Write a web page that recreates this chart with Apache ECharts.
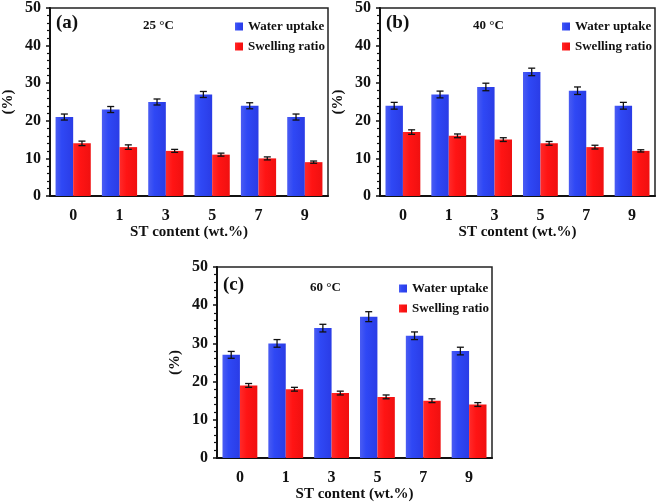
<!DOCTYPE html>
<html><head><meta charset="utf-8">
<script src="https://cdn.jsdelivr.net/npm/echarts@6/dist/echarts.min.js"></script>
<style>html,body{margin:0;padding:0;background:#fff}#c{width:661px;height:504px}</style>
</head><body><div id="c"></div>
<script>
const categories = ['0', '1', '3', '5', '7', '9'];
const panelLabels = ['(a)', '(b)', '(c)'];
const temps = ['25 °C', '40 °C', '60 °C'];
const waterA = [21, 23, 25, 27, 24, 21];
const swellA = [14, 13, 12, 11, 10, 9];
const waterErrA = [0.8, 0.8, 0.8, 0.8, 0.8, 0.8];
const swellErrA = [0.6, 0.6, 0.4, 0.4, 0.4, 0.3];
const waterB = [24, 27, 29, 33, 28, 24];
const swellB = [17, 16, 15, 14, 13, 12];
const waterErrB = [0.9, 0.9, 1.0, 1.0, 1.0, 0.9];
const swellErrB = [0.6, 0.5, 0.5, 0.5, 0.5, 0.3];
const waterC = [27, 30, 34, 37, 32, 28];
const swellC = [19, 18, 17, 16, 15, 14];
const waterErrC = [0.9, 1.0, 1.0, 1.3, 1.0, 1.0];
const swellErrC = [0.5, 0.5, 0.5, 0.5, 0.5, 0.5];
const yTicks = [0, 10, 20, 30, 40, 50];

const panels = [
  {water: waterA, swell: swellA, we: waterErrA, se: swellErrA},
  {water: waterB, swell: swellB, we: waterErrB, se: swellErrB},
  {water: waterC, swell: swellC, we: waterErrC, se: swellErrC}
];
const grids = [
  {left: 50, top: 5, width: 278, height: 191},
  {left: 380, top: 5, width: 275, height: 191},
  {left: 217, top: 267, width: 275, height: 191}
];
const FONT = 'Liberation Serif';
const GAP = 0.24;
const blueGrad = new echarts.graphic.LinearGradient(0, 0, 1, 0, [
  {offset: 0, color: '#4a5cf2'}, {offset: 0.35, color: '#2f48f5'}, {offset: 1, color: '#2a3ce6'}]);
const redGrad = new echarts.graphic.LinearGradient(0, 0, 1, 0, [
  {offset: 0, color: '#ff2a2a'}, {offset: 0.4, color: '#ff1414'}, {offset: 1, color: '#f01010'}]);

function errSeries(idx, vals, errs, side) {
  return {
    type: 'custom', xAxisIndex: idx, yAxisIndex: idx, z: 10, silent: true,
    data: vals.map((v, i) => [i, v, errs[i]]),
    renderItem: function (params, api) {
      const band = api.size([1, 0])[0];
      const bw = band * (1 - GAP) / 2;
      const c = api.coord([api.value(0), api.value(1)]);
      const x = c[0] + side * bw / 2;
      const hi = api.coord([api.value(0), api.value(1) + api.value(2)])[1];
      const lo = api.coord([api.value(0), api.value(1) - api.value(2)])[1];
      const cap = 3.5;
      const st = {stroke: '#111', lineWidth: 1.3};
      return {type: 'group', children: [
        {type: 'line', shape: {x1: x, y1: hi, x2: x, y2: lo}, style: st},
        {type: 'line', shape: {x1: x - cap, y1: hi, x2: x + cap, y2: hi}, style: st},
        {type: 'line', shape: {x1: x - cap, y1: lo, x2: x + cap, y2: lo}, style: st}
      ]};
    }
  };
}

const option = {
  animation: false,
  backgroundColor: '#fff',
  textStyle: {fontFamily: FONT, fontWeight: 'bold', color: '#111'},
  grid: grids.map(g => Object.assign({show: true, borderColor: '#222', borderWidth: 1.5, containLabel: false}, g)),
  xAxis: grids.map((g, i) => ({
    type: 'category', gridIndex: i, data: categories,
    name: 'ST content (wt.%)', nameLocation: 'middle', nameGap: 29,
    nameTextStyle: {fontFamily: FONT, fontWeight: 'bold', fontSize: 15, color: '#111'},
    axisLine: {lineStyle: {color: '#111', width: 2}},
    axisTick: {show: false},
    axisLabel: {fontFamily: FONT, fontWeight: 'bold', fontSize: 16, color: '#111', margin: 12}
  })),
  yAxis: grids.map((g, i) => ({
    type: 'value', gridIndex: i, min: yTicks[0], max: yTicks[yTicks.length - 1], interval: 10,
    name: '(%)', nameLocation: 'middle', nameGap: 34, nameRotate: 90,
    nameTextStyle: {fontFamily: FONT, fontWeight: 'bold', fontSize: 15, color: '#111'},
    axisLine: {show: true, lineStyle: {color: '#111', width: 2}},
    axisTick: {show: true, inside: false, length: 4, lineStyle: {color: '#111', width: 1.5}},
    minorTick: {show: true, splitNumber: 5, length: 3, lineStyle: {color: '#111', width: 1.2}},
    splitLine: {show: false},
    axisLabel: {fontFamily: FONT, fontWeight: 'bold', fontSize: 16, color: '#111', margin: 9}
  })),
  legend: grids.map((g, i) => ({
    orient: 'vertical', left: g.left + g.width - 98, top: g.top + 10,
    itemWidth: 8, itemHeight: 8, itemGap: 7, icon: 'rect',
    data: ['Water uptake', 'Swelling ratio'],
    formatter: '{s|{name}}',
    textStyle: {fontFamily: FONT, fontWeight: 'bold', fontSize: 13, color: '#111',
      rich: {s: {fontFamily: FONT, fontWeight: 'bold', fontSize: 13, color: '#111'}}}
  })),
  graphic: grids.flatMap((g, i) => [
    {type: 'text', left: g.left + 6, top: g.top + 9,
      style: {text: panelLabels[i], font: 'bold 19px "Liberation Serif"', fill: '#111'}},
    {type: 'text', left: g.left + 93, top: g.top + 14,
      style: {text: temps[i], font: 'bold 13px "Liberation Serif"', fill: '#111'}}
  ]),
  series: panels.flatMap((p, i) => [
    {type: 'bar', name: 'Water uptake', xAxisIndex: i, yAxisIndex: i, data: p.water,
      barGap: '0%', barCategoryGap: (GAP * 100) + '%', itemStyle: {color: blueGrad}},
    {type: 'bar', name: 'Swelling ratio', xAxisIndex: i, yAxisIndex: i, data: p.swell,
      barGap: '0%', barCategoryGap: (GAP * 100) + '%', itemStyle: {color: redGrad}},
    errSeries(i, p.water, p.we, -1),
    errSeries(i, p.swell, p.se, 1)
  ])
};
const chart = echarts.init(document.getElementById('c'), null, {renderer: 'canvas'});
chart.setOption(option);
</script></body></html>
